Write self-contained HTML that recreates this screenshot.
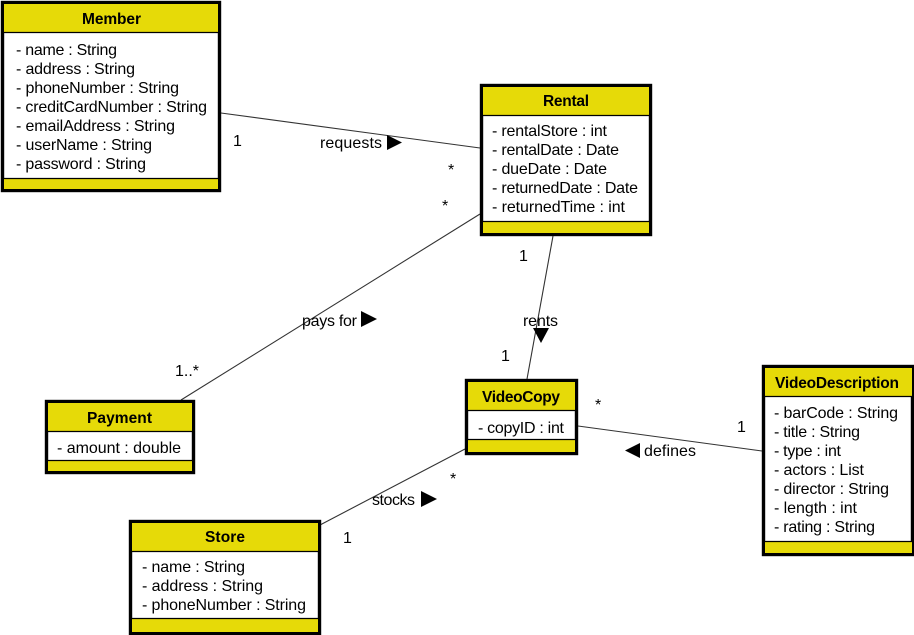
<!DOCTYPE html>
<html><head><meta charset="utf-8"><style>
html,body{margin:0;padding:0;background:#fff}
svg{display:block}
text{font-family:"Liberation Sans",sans-serif;font-size:16px;fill:#000}
.t{font-weight:bold;font-size:15.5px}
.box{fill:#fff;stroke:#000;stroke-width:3.4}
.y{fill:#e6da08}
.d{stroke:#000;stroke-width:1.2;fill:none}
.c{stroke:#333;stroke-width:1.1;fill:none}
</style></head><body>
<svg width="914" height="635" viewBox="0 0 914 635" xmlns="http://www.w3.org/2000/svg">
<g class="c">
<line x1="221" y1="113" x2="480" y2="148"/>
<line x1="480" y1="214" x2="181" y2="400"/>
<line x1="553" y1="236" x2="527" y2="379"/>
<line x1="578" y1="426" x2="762" y2="451"/>
<line x1="465" y1="449" x2="320" y2="525"/>
</g>

<!-- Member -->
<rect class="box" x="2.500" y="2.500" width="217" height="188"/>
<rect class="y" x="4" y="4" width="214" height="28"/><rect class="y" x="4" y="178" width="214" height="11"/>
<path class="d" d="M4 32.500H218M4 178.500H218"/>
<text class="t" x="82" y="24" textLength="59">Member</text>
<text x="16" y="55" textLength="101">- name : String</text>
<text x="16" y="74" textLength="119">- address : String</text>
<text x="16" y="93" textLength="163">- phoneNumber : String</text>
<text x="16" y="112" textLength="191">- creditCardNumber : String</text>
<text x="16" y="131" textLength="159">- emailAddress : String</text>
<text x="16" y="150" textLength="136">- userName : String</text>
<text x="16" y="169" textLength="130">- password : String</text>

<!-- Rental -->
<rect class="box" x="481.500" y="85.500" width="169" height="149"/>
<rect class="y" x="483" y="87" width="166" height="28"/><rect class="y" x="483" y="221" width="166" height="12"/>
<path class="d" d="M483 115.500H649M483 221.500H649"/>
<text class="t" x="543" y="106" textLength="46">Rental</text>
<text x="492" y="136" textLength="115">- rentalStore : int</text>
<text x="492" y="155" textLength="127">- rentalDate : Date</text>
<text x="492" y="174" textLength="115">- dueDate : Date</text>
<text x="492" y="193" textLength="146">- returnedDate : Date</text>
<text x="492" y="212" textLength="133">- returnedTime : int</text>

<!-- Payment -->
<rect class="box" x="46.500" y="401.500" width="147" height="71"/>
<rect class="y" x="48" y="403" width="144" height="28"/><rect class="y" x="48" y="460" width="144" height="11"/>
<path class="d" d="M48 431.500H192M48 460.500H192"/>
<text class="t" x="87" y="423" textLength="65">Payment</text>
<text x="57" y="453" textLength="124">- amount : double</text>

<!-- VideoCopy -->
<rect class="box" x="466.500" y="380.500" width="110" height="73"/>
<rect class="y" x="468" y="382" width="107" height="28"/><rect class="y" x="468" y="440" width="107" height="12"/>
<path class="d" d="M468 410.500H575M468 439.500H575"/>
<text class="t" x="482" y="402" textLength="78">VideoCopy</text>
<text x="478" y="433" textLength="86">- copyID : int</text>

<!-- VideoDescription -->
<rect class="box" x="763.500" y="366.500" width="149" height="188"/>
<rect class="y" x="765" y="368" width="147" height="28"/><rect class="y" x="765" y="541" width="147" height="12"/>
<path class="d" d="M765 396.500H912M765 541.500H912"/>
<text class="t" x="775" y="388" textLength="124">VideoDescription</text>
<text x="774" y="418" textLength="124">- barCode : String</text>
<text x="774" y="437" textLength="86">- title : String</text>
<text x="774" y="456" textLength="67">- type : int</text>
<text x="774" y="475" textLength="90">- actors : List</text>
<text x="774" y="494" textLength="115">- director : String</text>
<text x="774" y="513" textLength="83">- length : int</text>
<text x="774" y="532" textLength="101">- rating : String</text>

<!-- Store -->
<rect class="box" x="130.500" y="521.500" width="189" height="112"/>
<rect class="y" x="132" y="523" width="186" height="28"/><rect class="y" x="132" y="619" width="186" height="13"/>
<path class="d" d="M132 551.500H318M132 618.500H318"/>
<text class="t" x="205" y="542" textLength="40">Store</text>
<text x="142" y="572" textLength="103">- name : String</text>
<text x="142" y="591" textLength="121">- address : String</text>
<text x="142" y="610" textLength="164">- phoneNumber : String</text>

<!-- Labels -->
<text x="320" y="148" textLength="62">requests</text>
<text x="302" y="326" textLength="55">pays for</text>
<text x="523" y="326" textLength="35">rents</text>
<text x="644" y="456" textLength="52">defines</text>
<text x="372" y="505" textLength="43">stocks</text>
<path d="M387 135L402 142.500L387 150Z"/>
<path d="M361 311L377 319L361 327Z"/>
<path d="M533 328H549L541 343Z"/>
<path d="M640 443V458L625 450.500Z"/>
<path d="M421 491L437 499L421 507Z"/>
<text x="233" y="146">1</text>
<text x="448" y="175">*</text>
<text x="442" y="211">*</text>
<text x="175" y="376" textLength="24">1..*</text>
<text x="519" y="261">1</text>
<text x="501" y="361">1</text>
<text x="595" y="410">*</text>
<text x="737" y="432">1</text>
<text x="450" y="484">*</text>
<text x="343" y="543">1</text>
</svg>
</body></html>
